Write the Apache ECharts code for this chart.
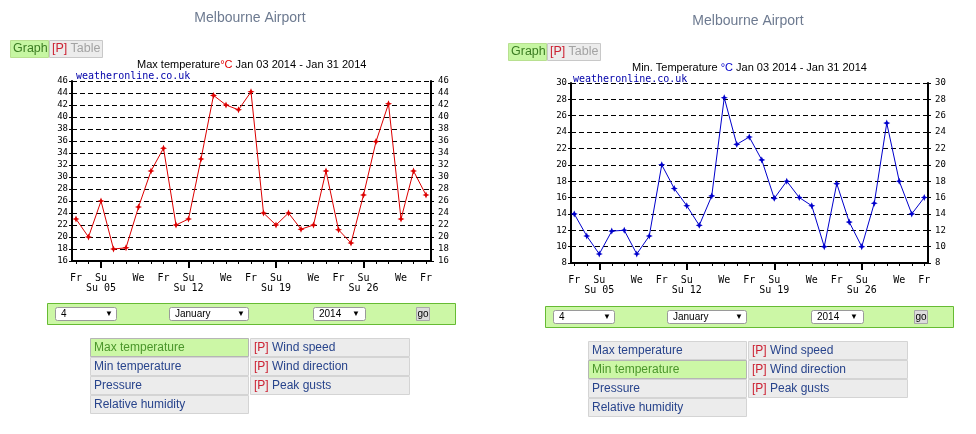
<!DOCTYPE html>
<html>
<head>
<meta charset="utf-8">
<script src="https://cdn.jsdelivr.net/npm/echarts@6/dist/echarts.min.js"></script>
<style>
html,body{margin:0;padding:0;background:#fff;}
#c{width:976px;height:434px;}
</style>
</head>
<body>
<div id="c"></div>
<script>
// ---- data ----
const days = [3,4,5,6,7,8,9,10,11,12,13,14,15,16,17,18,19,20,21,22,23,24,25,26,27,28,29,30,31];
const maxTemp = [23,20,26,18,18.2,25,31,34.8,22,23,33,43.6,42,41.2,44.2,24,22,24,21.3,22,31,21.2,19,27,35.9,42.2,23,31,27];
const minTemp = [14,11.3,9.1,11.9,12,9.1,11.3,20,17.1,15,12.6,16.2,28.2,22.5,23.4,20.6,15.9,18,16,15,10,17.7,13,10,15.3,25.1,18,14,16];
const labelDays = [3,5,8,10,12,15,17,19,22,24,26,29,31];
const labelText = ['Fr','Su\nSu 05','We','Fr','Su\nSu 12','We','Fr','Su\nSu 19','We','Fr','Su\nSu 26','We','Fr'];
const sundays = [5,12,19,26];
const maxTitle = ['Max temperature','°C',' Jan 03 2014 - Jan 31 2014'];
const minTitle = ['Min. Temperature ','°C',' Jan 03 2014 - Jan 31 2014'];
const leftRows = ['Max temperature','Min temperature','Pressure','Relative humidity'];
const rightRows = ['Wind speed','Wind direction','Peak gusts'];

const MONO = '"DejaVu Sans Mono", monospace';
const SANS = '"Liberation Sans", Arial, sans-serif';

const chart = echarts.init(document.getElementById('c'), null, {renderer:'canvas'});

function xLabel(v){ const i = labelDays.indexOf(Math.round(v)); return i>=0 ? labelText[i] : ''; }

function xAxes(gi, mn, mx){
  return [
    {type:'value', gridIndex:gi, min:mn, max:mx, position:'bottom',
     axisLine:{show:true, lineStyle:{color:'#000', width:2}},
     axisTick:{show:true, customValues:days, length:3, lineStyle:{color:'#000', width:1}},
     axisLabel:{show:true, customValues:labelDays, formatter:xLabel, color:'#000', fontFamily:MONO, fontSize:10, lineHeight:10.5, margin:12},
     splitLine:{show:false}},
    {type:'value', gridIndex:gi, min:mn, max:mx, position:'bottom',
     axisLine:{show:false},
     axisTick:{show:true, customValues:sundays, length:7, lineStyle:{color:'#000', width:2}},
     axisLabel:{show:false}, splitLine:{show:false}}
  ];
}
function yAxes(gi, mn, mx){
  const common = {type:'value', gridIndex:gi, min:mn, max:mx, interval:2,
    axisLine:{show:true, lineStyle:{color:'#000', width:2}},
    axisTick:{show:true, length:3, lineStyle:{color:'#000', width:1}},
    axisLabel:{color:'#000', fontFamily:MONO, fontSize:9, margin:4, padding:[0,0,4,0]}};
  return [
    Object.assign({}, common, {position:'left', splitLine:{show:true, lineStyle:{color:'#000', width:1, type:[5,3]}}}),
    Object.assign({}, common, {position:'right', axisLabel:Object.assign({}, common.axisLabel, {margin:7}), splitLine:{show:false}})
  ];
}

const star = 'path://M0,-10 L3,-3 L10,0 L3,3 L0,10 L-3,3 L-10,0 L-3,-3 Z';

// ---- page UI (graphic) ----
function panelUI(dx, dy, sel){
  const g = [];
  const T = (x,y,str,o) => ({type:'text', silent:true, style:Object.assign({x:x+dx, y:y+dy, text:str, fill:'#000', fontFamily:SANS, fontSize:12, verticalAlign:'middle'}, o||{})});
  const R = (x,y,w,h,fill,stroke,r) => ({type:'rect', silent:true, shape:{x:x+dx, y:y+dy, width:w, height:h, r:r||0}, style:{fill:fill, stroke:stroke||null, lineWidth:1}});
  g.push(T(250,18,'Melbourne Airport',{fontSize:14, fill:'#6d7a90', align:'center'}));
  // tabs
  g.push(R(10.5,40.5,38,17,'#c6f6a2','#b8e090'));
  g.push(T(13,49,'Graph',{fill:'#3b7d22', fontSize:12.5}));
  g.push(R(49.5,40.5,53,17,'#ececec','#c8c8c8'));
  g.push(T(52,49,'{r|[P]} {g|Table}',{rich:{r:{fill:'#cc2233', fontSize:12.5, fontFamily:SANS}, g:{fill:'#a3a3a3', fontSize:12.5, fontFamily:SANS}}}));
  // green form bar
  g.push(R(47.5,303.5,408,21,'#ccf7a6','#66bb33'));
  g.push(R(55.5,307.5,61,13,'#fff','#9a9a9a',2));
  g.push(T(61,314,'4',{fontSize:10}));
  g.push(T(105,314,'▼',{fontSize:8}));
  g.push(R(169.5,307.5,79,13,'#fff','#9a9a9a',2));
  g.push(T(175,314,'January',{fontSize:10}));
  g.push(T(237,314,'▼',{fontSize:8}));
  g.push(R(313.5,307.5,52,13,'#fff','#9a9a9a',2));
  g.push(T(319,314,'2014',{fontSize:10}));
  g.push(T(352,314,'▼',{fontSize:8}));
  g.push(R(416.5,307.5,13,13,'#dcdcdc','#a8a8a8'));
  g.push(T(423,314,'go',{fontSize:10, align:'center'}));
  // menu table
  const rowY = [338,357,376,395];
  leftRows.forEach((s,i)=>{
    const on = i===sel;
    g.push(R(90.5,rowY[i]+0.5,158,18,on?'#ccf7a6':'#ececec', on?'#b5b5b5':'#d4d4d4'));
    g.push(T(94,rowY[i]+9.5,s,{fill:on?'#4a962a':'#28448c'}));
  });
  rightRows.forEach((s,i)=>{
    g.push(R(250.5,rowY[i]+0.5,159,18,'#ececec','#d4d4d4'));
    g.push(T(254,rowY[i]+9.5,'{r|[P]} {b|'+s+'}',{rich:{r:{fill:'#cc2233', fontSize:12, fontFamily:SANS}, b:{fill:'#28448c', fontSize:12, fontFamily:SANS}}}));
  });
  return g;
}

const graphics = [].concat(
  panelUI(0,0,0),
  panelUI(498,3,1),
  [
    {type:'text', silent:true, z:5, style:{x:76, y:76, text:'weatheronline.co.uk', fill:'#0000aa', fontFamily:MONO, fontSize:10, verticalAlign:'middle'}},
    {type:'text', silent:true, z:5, style:{x:573, y:79, text:'weatheronline.co.uk', fill:'#0000aa', fontFamily:MONO, fontSize:10, verticalAlign:'middle'}}
  ]
);

const option = {
  animation:false,
  backgroundColor:'#fff',
  title:[
    {left:137, top:59, text:'{a|'+maxTitle[0]+'}{r|'+maxTitle[1]+'}{a|'+maxTitle[2]+'}',
     textStyle:{fontWeight:'normal', rich:{a:{fontFamily:SANS, fontSize:11, fontWeight:'normal', color:'#000'}, r:{fontFamily:SANS, fontSize:11, fontWeight:'normal', color:'#e00000'}}}, padding:0},
    {left:632, top:62, text:'{a|'+minTitle[0]+'}{r|'+minTitle[1]+'}{a|'+minTitle[2]+'}',
     textStyle:{fontWeight:'normal', rich:{a:{fontFamily:SANS, fontSize:11, fontWeight:'normal', color:'#000'}, r:{fontFamily:SANS, fontSize:11, fontWeight:'normal', color:'#0000cc'}}}, padding:0}
  ],
  grid:[
    {left:72, top:81, width:359, height:180, containLabel:false},
    {left:571, top:83, width:357, height:180, containLabel:false}
  ],
  xAxis:[].concat(xAxes(0,2.68,31.4), xAxes(1,2.74,31.3)),
  yAxis:[].concat(yAxes(0,16,46), yAxes(1,8,30)),
  series:[
    {type:'line', xAxisIndex:0, yAxisIndex:0, data:days.map((d,i)=>[d,maxTemp[i]]),
     symbol:star, symbolSize:7, showSymbol:true, color:'#dd0000',
     lineStyle:{color:'#dd0000', width:1}, itemStyle:{color:'#dd0000'}},
    {type:'line', xAxisIndex:2, yAxisIndex:2, data:days.map((d,i)=>[d,minTemp[i]]),
     symbol:star, symbolSize:7, showSymbol:true, color:'#0000cc',
     lineStyle:{color:'#0000cc', width:1}, itemStyle:{color:'#0000cc'}}
  ],
  graphic:graphics
};
chart.setOption(option);
</script>
</body>
</html>
